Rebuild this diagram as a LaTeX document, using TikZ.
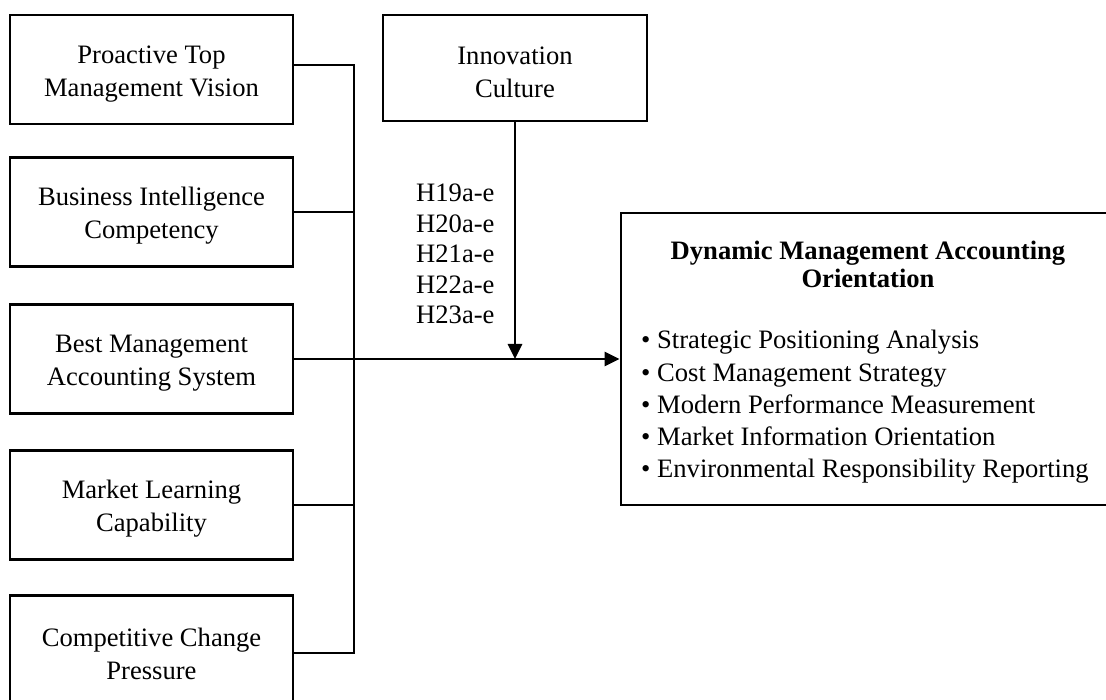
\documentclass[tikz,border=0pt]{standalone}
\usepackage{fontspec}
\setmainfont{Liberation Serif}
\usetikzlibrary{arrows.meta}
\newcommand{\topstrut}{\rule{0pt}{26pt}}
\begin{document}
\begin{tikzpicture}[x=1pt,y=-1pt,
  every node/.style={font=\fontsize{26.6}{33}\selectfont},
  lbox/.style={draw,line width=2.8pt,minimum width=283pt,minimum height=109pt,align=center,inner sep=0pt},
  conn/.style={line width=2.8pt},
  arr/.style={line width=2.8pt,-{Triangle[length=15pt,width=14pt]}},
  plain/.style={inner sep=0pt,align=left}
]
\useasboundingbox (0,0) rectangle (1106,700);
\clip (0,0) rectangle (1106,700);
% left boxes
\node[lbox] (b1) at (151.5,69.5) {\topstrut Proactive Top\\Management Vision};
\node[lbox] (b2) at (151.5,212) {\topstrut Business Intelligence\\Competency};
\node[lbox] (b3) at (151.5,359) {\topstrut Best Management\\Accounting System};
\node[lbox] (b4) at (151.5,505) {\topstrut Market Learning\\Capability};
\node[lbox] (b5) at (151.5,650) {\topstrut Competitive Change\\Pressure};
% moderator
\node[lbox,minimum width=264pt,minimum height=106pt] (ic) at (515,68) {\topstrut Innovation\\Culture};
% dependent
\node[draw,line width=2.8pt,minimum width=500pt,minimum height=292pt,inner sep=0pt] (dm) at (871,359) {};
\node[plain,align=center,font=\fontsize{26.6}{28}\selectfont\bfseries] (title) at (868,264) {Dynamic Management Accounting\\Orientation};
\node[plain,anchor=west,font=\fontsize{26.6}{32.2}\selectfont] (list) at (641,407) {%
\textbullet\ Strategic Positioning Analysis\\
\textbullet\ Cost Management Strategy\\
\textbullet\ Modern Performance Measurement\\
\textbullet\ Market Information Orientation\\
\textbullet\ Environmental Responsibility Reporting};
% hypotheses labels
\node[plain,anchor=west,font=\fontsize{26.6}{30.5}\selectfont] (hyp) at (416,254) {H19a-e\\H20a-e\\H21a-e\\H22a-e\\H23a-e};
% junction
\coordinate (j) at (354,359);
\draw[conn] ([yshift=4.5pt]b1.east) -| (j);
\draw[conn] (b2.east) -| (j);
\draw[conn] (b4.east) -| (j);
\draw[conn] ([yshift=-3pt]b5.east) -| (j);
\draw[arr] (b3.east) -- (dm.west);
\draw[arr] (ic.south) -- (ic.south |- b3.east);
\end{tikzpicture}
\end{document}
